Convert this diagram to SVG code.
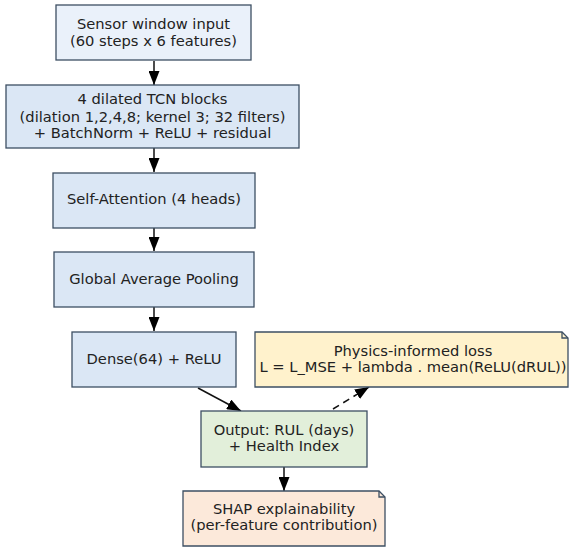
<svg xmlns="http://www.w3.org/2000/svg" width="569" height="547" viewBox="0 0 569 547">
<defs>
<marker id="ah" markerWidth="15" markerHeight="11" refX="14" refY="5.5" orient="auto" markerUnits="userSpaceOnUse"><path d="M0,0 L14,5.5 L0,11 z" fill="#000"/></marker>
<style>
.n{stroke:#3d4f63;stroke-width:1.3}
.b{fill:#dbe7f5}
text{font-family:"DejaVu Sans",sans-serif;font-size:14.7px;fill:#222;text-anchor:middle}
.e{stroke:#111;stroke-width:1.5;fill:none}
</style>
</defs>
<rect width="569" height="547" fill="#fff"/>
<g id="connectors">
<line class="e" x1="154" y1="61" x2="154" y2="85" marker-end="url(#ah)"/>
<line class="e" x1="154" y1="148" x2="154" y2="172" marker-end="url(#ah)"/>
<line class="e" x1="154" y1="228" x2="154" y2="251" marker-end="url(#ah)"/>
<line class="e" x1="154" y1="307" x2="154" y2="331" marker-end="url(#ah)"/>
<line class="e" x1="198" y1="388" x2="241" y2="411" marker-end="url(#ah)"/>
<line class="e" x1="333" y1="409" x2="369" y2="387" stroke-dasharray="7,5" marker-end="url(#ah)"/>
<line class="e" x1="284" y1="467" x2="284" y2="491" marker-end="url(#ah)"/>
</g>
<g id="input">
<rect class="n" x="56" y="5" width="195" height="55" fill="#eaf1fa"/>
<text x="153.5" y="29">Sensor window input</text>
<text x="153.5" y="46">(60 steps x 6 features)</text>
</g>
<g id="tcn">
<rect class="n b" x="6" y="85" width="293" height="63"/>
<text x="152.5" y="104">4 dilated TCN blocks</text>
<text x="152.5" y="122">(dilation 1,2,4,8; kernel 3; 32 filters)</text>
<text x="152.5" y="138">+ BatchNorm + ReLU + residual</text>
</g>
<g id="attention">
<rect class="n b" x="53" y="173" width="202" height="55"/>
<text x="154" y="204">Self-Attention (4 heads)</text>
</g>
<g id="gap">
<rect class="n b" x="54" y="252" width="200" height="55"/>
<text x="154" y="284">Global Average Pooling</text>
</g>
<g id="dense">
<rect class="n b" x="72" y="332" width="164" height="55"/>
<text x="154" y="364">Dense(64) + ReLU</text>
</g>
<g id="physics">
<path class="n" d="M255,332 H562 L568,338 V387 H255 Z" fill="#fff2cc"/>
<path class="n" d="M562,332 V338 H568" fill="none"/>
<text x="413" y="356">Physics-informed loss</text>
<text x="413" y="372">L = L_MSE + lambda . mean(ReLU(dRUL))</text>
</g>
<g id="output">
<rect class="n" x="201" y="411" width="166" height="56" fill="#e2efda"/>
<text x="284" y="435">Output: RUL (days)</text>
<text x="284" y="451">+ Health Index</text>
</g>
<g id="shap">
<path class="n" d="M183,491 H379 L385,497 V546 H183 Z" fill="#fce9da"/>
<path class="n" d="M379,491 V497 H385" fill="none"/>
<text x="284" y="514">SHAP explainability</text>
<text x="284" y="530">(per-feature contribution)</text>
</g>
</svg>
